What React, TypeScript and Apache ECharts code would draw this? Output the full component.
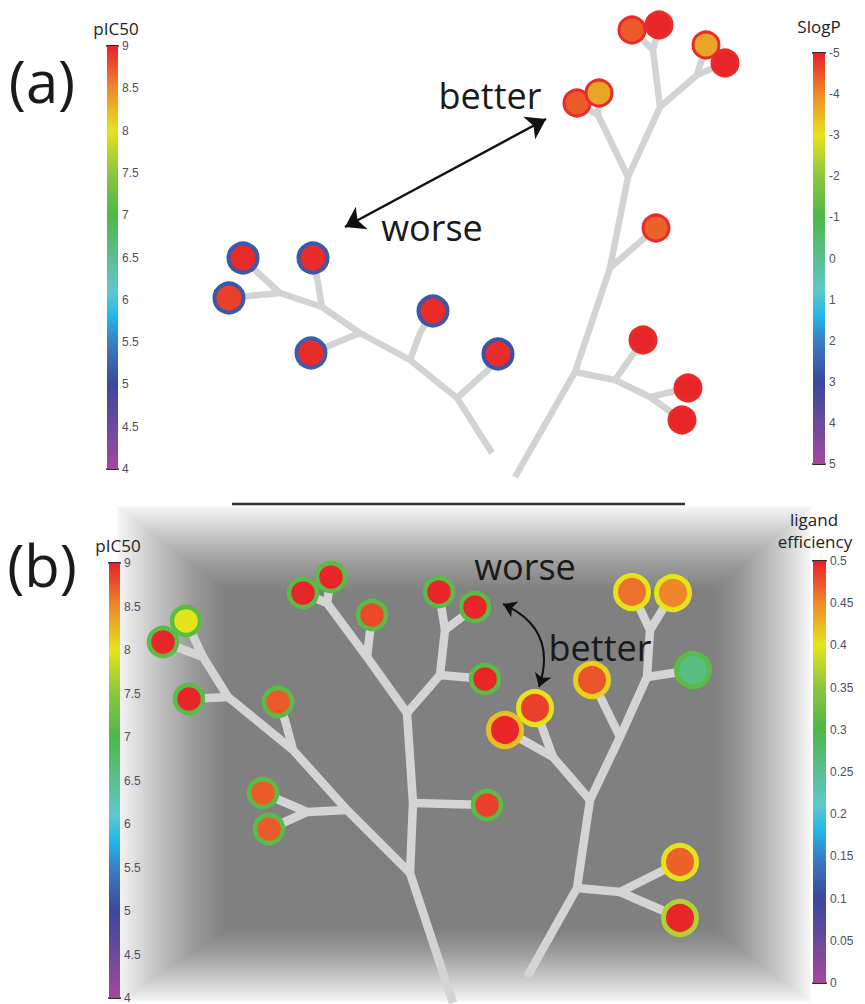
import React, { useEffect, useRef } from "react";
import * as echarts from "echarts";

const W = 865;
const H = 1004;

// ---- colour scale used by all colour bars (fraction 0 = bottom, 1 = top) ----
const CMAP: [number, string][] = [
  [0.0, "#a5479c"],
  [0.1, "#6b4a9f"],
  [0.2, "#3b489d"],
  [0.3, "#3a7fc4"],
  [0.36, "#22b6ea"],
  [0.42, "#5ec8cc"],
  [0.5, "#5bbf90"],
  [0.6, "#4db848"],
  [0.7, "#8cc63f"],
  [0.8, "#e5e41c"],
  [0.9, "#ee8a2a"],
  [1.0, "#e8202a"],
];

// ---- colour bar ranges [min, max, tick step] ----
const PIC50_RANGE = [4, 9, 0.5];
const SLOGP_RANGE = [-5, 5, 1];
const LE_RANGE = [0, 0.5, 0.05];

// ---- tree branches (figure units) ----
const A_LEFT_BRANCHES = [
  [[492, 453], [457, 398], [410, 360], [360, 333], [322, 307], [280, 293], [257, 272], [243, 258]],
  [[280, 293], [229, 298]],
  [[322, 307], [317, 277], [313, 258]],
  [[360, 333], [311, 353]],
  [[410, 360], [420, 333], [433, 311]],
  [[457, 398], [488, 370], [498, 354]],
];
const A_RIGHT_BRANCHES = [
  [[515, 477], [575, 372], [610, 268], [628, 177], [660, 107], [653, 50], [632, 30]],
  [[653, 50], [659, 25]],
  [[660, 107], [697, 75], [706, 45]],
  [[697, 75], [725, 63]],
  [[628, 177], [598, 115], [577, 103]],
  [[598, 115], [599, 93]],
  [[610, 268], [656, 228]],
  [[575, 372], [615, 380], [650, 397], [688, 388]],
  [[650, 397], [682, 420]],
  [[615, 380], [643, 340]],
];
const B_LEFT_BRANCHES = [
  [[453, 1003], [410, 873], [413, 803], [407, 713]],
  [[413, 803], [487, 805]],
  [[407, 713], [367, 657], [327, 603], [303, 593]],
  [[327, 603], [331, 577]],
  [[367, 657], [372, 615]],
  [[407, 713], [440, 675], [445, 630], [439, 592]],
  [[445, 630], [475, 607]],
  [[440, 675], [485, 679]],
  [[410, 873], [347, 810], [293, 750], [228, 697], [203, 657], [163, 642]],
  [[203, 657], [186, 621]],
  [[228, 697], [189, 699]],
  [[293, 750], [285, 720], [278, 702]],
  [[347, 810], [307, 812], [263, 793]],
  [[307, 812], [269, 829]],
];
const B_RIGHT_BRANCHES = [
  [[527, 977], [577, 888], [590, 800]],
  [[577, 888], [620, 892], [680, 862]],
  [[620, 892], [680, 918]],
  [[590, 800], [553, 757], [505, 730]],
  [[553, 757], [535, 708]],
  [[590, 800], [620, 737], [647, 677], [650, 630], [632, 592]],
  [[650, 630], [673, 593]],
  [[647, 677], [693, 670]],
  [[620, 737], [592, 680]],
];

// ---- compounds: [x, y, pIC50, SlogP] ----
const A_LEFT_NODES = [
  [243, 258, 8.95, 2.7],
  [313, 258, 8.95, 2.7],
  [229, 298, 8.85, 2.7],
  [433, 311, 8.95, 2.7],
  [311, 353, 8.95, 2.6],
  [498, 354, 8.95, 2.8],
];
const A_RIGHT_NODES = [
  [632, 30, 8.72, -4.9],
  [659, 25, 8.97, -4.9],
  [706, 45, 8.35, -4.9],
  [725, 63, 8.97, -4.9],
  [577, 103, 8.72, -4.9],
  [599, 93, 8.35, -4.9],
  [656, 228, 8.7, -4.9],
  [643, 340, 8.97, -4.9],
  [688, 388, 8.97, -4.9],
  [682, 420, 8.97, -4.9],
];
// ---- compounds: [x, y, pIC50, ligand efficiency] ----
const B_LEFT_NODES = [
  [163, 642, 8.97, 0.31],
  [186, 621, 8.0, 0.31],
  [189, 699, 8.97, 0.31],
  [278, 702, 8.72, 0.31],
  [263, 793, 8.72, 0.31],
  [269, 829, 8.72, 0.31],
  [303, 593, 8.97, 0.31],
  [331, 577, 8.97, 0.31],
  [372, 615, 8.8, 0.31],
  [439, 592, 8.97, 0.31],
  [475, 607, 8.97, 0.31],
  [485, 679, 8.97, 0.31],
  [487, 805, 8.85, 0.31],
];
const B_RIGHT_NODES = [
  [632, 592, 8.62, 0.4],
  [673, 593, 8.52, 0.4],
  [693, 670, 6.6, 0.31],
  [592, 680, 8.75, 0.41],
  [535, 708, 8.85, 0.4],
  [505, 730, 8.97, 0.42],
  [680, 862, 8.7, 0.4],
  [680, 918, 8.97, 0.37],
];

// ---- annotation arrows ----
const A_ARROW = [[345, 227], [546, 119]];
const B_ARROW = [[503, 604], [539, 687]];

// ---------------------------------------------------------------
function hexToRgb(h: string) {
  const n = parseInt(h.slice(1), 16);
  return [(n >> 16) & 255, (n >> 8) & 255, n & 255];
}
function cmap(f: number) {
  const t = Math.max(0, Math.min(1, f));
  for (let i = 0; i < CMAP.length - 1; i++) {
    const [f0, c0] = CMAP[i];
    const [f1, c1] = CMAP[i + 1];
    if (t >= f0 && t <= f1) {
      const k = (t - f0) / (f1 - f0);
      const a = hexToRgb(c0);
      const b = hexToRgb(c1);
      const r = a.map((v, j) => Math.round(v + (b[j] - v) * k));
      return `rgb(${r[0]},${r[1]},${r[2]})`;
    }
  }
  return CMAP[CMAP.length - 1][1];
}
const fPIC50 = (v: number) => (v - PIC50_RANGE[0]) / (PIC50_RANGE[1] - PIC50_RANGE[0]);
const fSLOGP = (v: number) => (SLOGP_RANGE[1] - v) / (SLOGP_RANGE[1] - SLOGP_RANGE[0]);
const fLE = (v: number) => (v - LE_RANGE[0]) / (LE_RANGE[1] - LE_RANGE[0]);

function barGradient() {
  const stops = [...CMAP]
    .map(([f, c]) => ({ offset: 1 - f, color: c }))
    .sort((a, b) => a.offset - b.offset);
  return new echarts.graphic.LinearGradient(0, 0, 0, 1, stops);
}

function buildOption() {
  const FONT = "'Open Sans', 'DejaVu Sans', sans-serif";
  const LABEL_FONT = "'Liberation Sans', Arial, sans-serif";

  const bars = [
    { grid: { left: 107, top: 46, width: 11, height: 423 }, range: PIC50_RANGE, inverse: false },
    { grid: { left: 813, top: 53, width: 12, height: 411 }, range: SLOGP_RANGE, inverse: true },
    { grid: { left: 109, top: 563, width: 11, height: 435 }, range: PIC50_RANGE, inverse: false },
    { grid: { left: 813, top: 561, width: 13, height: 422 }, range: LE_RANGE, inverse: false },
  ];

  const grid: any[] = [{ left: 0, top: 0, width: W, height: H, show: false }];
  const xAxis: any[] = [{ type: "value", gridIndex: 0, min: 0, max: W, show: false }];
  const yAxis: any[] = [{ type: "value", gridIndex: 0, min: 0, max: H, inverse: true, show: false }];
  const barSeries: any[] = [];

  bars.forEach((b, i) => {
    const gi = i + 1;
    grid.push({ ...b.grid, show: false });
    const capLine = { show: true, onZero: false, lineStyle: { color: "#3a2226", width: 2 } };
    const xi = xAxis.length;
    xAxis.push({
      type: "category", gridIndex: gi, data: [""], position: "bottom",
      axisLine: capLine, axisTick: { show: false }, axisLabel: { show: false }, splitLine: { show: false },
    });
    xAxis.push({
      type: "category", gridIndex: gi, data: [""], position: "top",
      axisLine: capLine, axisTick: { show: false }, axisLabel: { show: false }, splitLine: { show: false },
    });
    const yi = yAxis.length;
    const [mn, mx, step] = b.range;
    yAxis.push({
      type: "value", gridIndex: gi, min: mn, max: mx, interval: step, inverse: b.inverse,
      position: "right",
      axisLine: { show: false }, axisTick: { show: false }, splitLine: { show: false },
      axisLabel: {
        show: true, margin: 4, fontSize: 12, color: "#4d5063", fontFamily: LABEL_FONT,
        formatter: (v: number) => String(+v.toFixed(2)),
      },
    });
    barSeries.push({
      type: "bar", xAxisIndex: xi, yAxisIndex: yi, stack: "cb" + i, stackStrategy: "all",
      barWidth: "100%", silent: true, data: [mn], itemStyle: { color: "rgba(0,0,0,0)" }, z: 2,
    });
    barSeries.push({
      type: "bar", xAxisIndex: xi, yAxisIndex: yi, stack: "cb" + i, stackStrategy: "all",
      barWidth: "100%", silent: true, data: [mx - mn], itemStyle: { color: barGradient() }, z: 2,
    });
  });

  const branchSeries = (data: number[][][], width: number, color: string) => ({
    type: "lines", coordinateSystem: "cartesian2d", xAxisIndex: 0, yAxisIndex: 0,
    polyline: true, silent: true, z: 2,
    lineStyle: { color, width, opacity: 1, cap: "butt", join: "round" },
    data: data.map((c) => ({ coords: c })),
  });

  const nodeSeries = (nodes: number[][], size: number, bw: number, borderFrac: (v: number) => number) => ({
    type: "scatter", xAxisIndex: 0, yAxisIndex: 0, symbol: "circle", symbolSize: size, silent: true, z: 3,
    data: nodes.map((n) => ({
      value: [n[0], n[1]],
      itemStyle: { color: cmap(fPIC50(n[2])), borderColor: cmap(borderFrac(n[3])), borderWidth: bw, opacity: 1 },
    })),
  });

  const box = { l: 118, t: 507, r: 810, b: 1001, il: 226, it: 590, ir: 714, ib: 930 };
  const edgeStops = (lightFirst: boolean) => {
    const s = [
      { offset: 0, color: "#f5f5f5" },
      { offset: 0.3, color: "#cbcbcb" },
      { offset: 0.7, color: "#9a9a9a" },
      { offset: 1, color: "#808080" },
    ];
    return lightFirst ? s : s.map((x) => ({ offset: 1 - x.offset, color: x.color })).reverse();
  };
  const G = echarts.graphic.LinearGradient;
  const edge = (points: number[][], g: any) => ({
    type: "polygon", z: 0, silent: true, shape: { points },
    style: { fill: g, stroke: g, lineWidth: 1.2, lineJoin: "round" },
  });

  const text = (t: string, x: number, y: number, size: number, fill = "#1a1a1a") => ({
    type: "text", x, y, z: 20, silent: true,
    style: { text: t, fontSize: size, fontFamily: FONT, fill, align: "center", verticalAlign: "middle" },
  });

  return {
    animation: false,
    backgroundColor: "#ffffff",
    grid, xAxis, yAxis,
    graphic: [
      { type: "rect", z: 0, silent: true, shape: { x: box.il - 1, y: box.it - 1, width: box.ir - box.il + 2, height: box.ib - box.it + 2 },
        style: { fill: "#808080" } },
      edge([[box.l, box.t], [box.r, box.t], [box.ir, box.it], [box.il, box.it]], new G(0, 0, 0, 1, edgeStops(true))),
      edge([[box.il, box.ib], [box.ir, box.ib], [box.r, box.b], [box.l, box.b]], new G(0, 0, 0, 1, edgeStops(false))),
      edge([[box.l, box.t], [box.il, box.it], [box.il, box.ib], [box.l, box.b]], new G(0, 0, 1, 0, edgeStops(true))),
      edge([[box.ir, box.it], [box.r, box.t], [box.r, box.b], [box.ir, box.ib]], new G(0, 0, 1, 0, edgeStops(false))),
      { type: "line", z: 20, silent: true, shape: { x1: 232, y1: 504, x2: 685, y2: 504 }, style: { stroke: "#333", lineWidth: 2.5 } },
      text("(a)", 42, 80, 58),
      text("(b)", 42, 564, 58),
      text("better", 490, 95, 36),
      text("worse", 432, 227, 36),
      text("worse", 525, 566, 36),
      text("better", 600, 647, 36),
      text("pIC50", 116, 28, 17, "#222"),
      text("SlogP", 819, 26, 17, "#222"),
      text("pIC50", 118, 545, 17, "#222"),
      text("ligand", 814, 519, 17, "#222"),
      text("efficiency", 815, 541, 17, "#222"),
    ],
    series: [
      branchSeries(A_LEFT_BRANCHES, 6.5, "#d3d3d3"),
      branchSeries(A_RIGHT_BRANCHES, 6.5, "#d3d3d3"),
      branchSeries(B_LEFT_BRANCHES, 8.5, "#d4d4d4"),
      branchSeries(B_RIGHT_BRANCHES, 8.5, "#d4d4d4"),
      nodeSeries(A_LEFT_NODES, 29, 4, fSLOGP),
      nodeSeries(A_RIGHT_NODES, 26, 3, fSLOGP),
      nodeSeries(B_LEFT_NODES, 28, 4.5, fLE),
      nodeSeries(B_RIGHT_NODES, 33, 5, fLE),
      {
        type: "lines", coordinateSystem: "cartesian2d", xAxisIndex: 0, yAxisIndex: 0, silent: true, z: 4,
        symbol: ["arrow", "arrow"], symbolSize: 19,
        lineStyle: { color: "#111", width: 2.5, opacity: 1, curveness: 0 },
        data: [{ coords: A_ARROW }],
      },
      {
        type: "lines", coordinateSystem: "cartesian2d", xAxisIndex: 0, yAxisIndex: 0, silent: true, z: 4,
        symbol: ["arrow", "arrow"], symbolSize: 13,
        lineStyle: { color: "#111", width: 2, opacity: 1, curveness: 0.45 },
        data: [{ coords: B_ARROW }],
      },
      ...barSeries,
    ],
  };
}

export default function App() {
  const ref = useRef<HTMLDivElement>(null);
  useEffect(() => {
    const chart = echarts.init(ref.current!, null, { renderer: "svg" });
    chart.setOption(buildOption() as any);
    return () => chart.dispose();
  }, []);
  return (
    <div
      ref={ref}
      style={{ position: "absolute", left: 0, top: 0, width: W, height: H, background: "#fff" }}
    />
  );
}
